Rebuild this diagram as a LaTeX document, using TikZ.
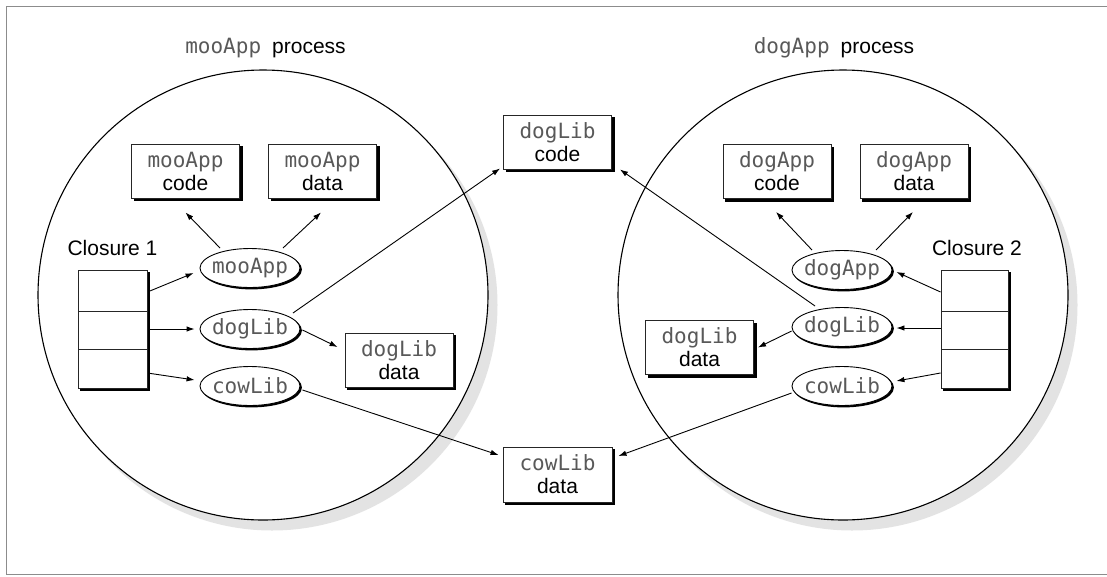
\documentclass[tikz,border=0pt]{standalone}
\usepackage{fontspec}
\setmainfont{Liberation Sans}
\newfontfamily\monof{DejaVu Sans Mono}
\usetikzlibrary{arrows.meta,calc,shapes.geometric}
\pgfdeclarelayer{csh}
\pgfdeclarelayer{back}
\pgfdeclarelayer{mid}
\pgfdeclarelayer{shade}
\pgfsetlayers{csh,back,mid,shade,main}
\newcommand{\mn}[1]{{\monof\color{black!65}#1}}
\begin{document}
\begin{tikzpicture}[x=1pt,y=-1pt,
  font=\fontsize{21pt}{23pt}\selectfont,
  box/.style={draw=black!85, line width=0.9pt, fill=white, minimum width=108pt,
    minimum height=54pt, inner sep=0pt, align=center},
  lib/.style={ellipse, draw, line width=0.9pt, fill=white, minimum width=100pt,
    minimum height=39pt, inner sep=0pt},
  cell/.style={draw=black!85, line width=0.9pt, fill=white, inner sep=0pt},
  proc/.style={circle, draw, line width=1.1pt, fill=white, minimum size=450pt, inner sep=0pt},
  conn/.style={line width=0.9pt, -{Latex[length=8pt,width=5.5pt]}},
  lbl/.style={inner sep=0pt},
  bshadow/.style={fill=black},
  cshadow/.style={fill=black!11}
]
\useasboundingbox (0,0) rectangle (1107,576);
\begin{pgfonlayer}{csh}
  \fill[white] (0,0) rectangle (1107,576);
  \draw[black!45, line width=1.3pt] (6.5,6.5) rectangle (1130,574.5);
\end{pgfonlayer}
\begin{pgfonlayer}{back}
  \node[proc] (P1) at (263,295) {};
  \node[proc] (P2) at (843,295) {};
\end{pgfonlayer}
\begin{pgfonlayer}{csh}
  \foreach \p in {P1,P2}
    \fill[cshadow] ($(\p)+(9,10)$) circle[radius=225.5];
\end{pgfonlayer}

% titles
\node[lbl] (t1) at (265.5,48) {\mn{mooApp}\hspace{11pt}process};
\node[lbl] (t2) at (834,48) {\mn{dogApp}\hspace{11pt}process};
\node[lbl] (k1) at (112.5,248) {Closure 1};
\node[lbl] (k2) at (977,248) {Closure 2};

% boxes
\node[box] (mc) at (185.5,171) {\mn{mooApp}\\code};
\node[box] (md) at (322.5,171) {\mn{mooApp}\\data};
\node[box] (dc) at (557.5,142) {\mn{dogLib}\\code};
\node[box] (dd) at (399,360) {\mn{dogLib}\\data};
\node[box, minimum width=109pt, minimum height=55pt] (cd) at (557.5,474.5) {\mn{cowLib}\\data};
\node[box] (ac) at (777,171.5) {\mn{dogApp}\\code};
\node[box] (ad) at (914,171.5) {\mn{dogApp}\\data};
\node[box] (rd) at (699.5,347.5) {\mn{dogLib}\\data};

% ellipses
\node[lib] (m1) at (250,268) {\makebox[40pt]{\mn{mooApp}}};
\node[lib] (d1) at (250,329) {\makebox[40pt]{\mn{dogLib}}};
\node[lib] (w1) at (250,386) {\makebox[40pt]{\mn{cowLib}}};
\node[lib] (m2) at (842,270) {\makebox[40pt]{\mn{dogApp}}};
\node[lib] (d2) at (842,327) {\makebox[40pt]{\mn{dogLib}}};
\node[lib] (w2) at (842,386) {\makebox[40pt]{\mn{cowLib}}};

% closure tables
\node[cell, minimum width=69pt, minimum height=41pt] (c1a) at (112.5,290.5) {};
\node[cell, minimum width=69pt, minimum height=38pt] (c1b) at (112.5,330) {};
\node[cell, minimum width=69pt, minimum height=39pt] (c1c) at (112.5,368.5) {};
\node[cell, minimum width=67pt, minimum height=41pt] (c2a) at (974.5,290.5) {};
\node[cell, minimum width=67pt, minimum height=38pt] (c2b) at (974.5,330) {};
\node[cell, minimum width=67pt, minimum height=39pt] (c2c) at (974.5,368.5) {};

% drop shadows
\begin{pgfonlayer}{shade}
  \foreach \n in {mc,md,dc,dd,cd,ac,ad,rd}
    \fill[bshadow] ($(\n.north west)+(2.7,2.7)$) rectangle ($(\n.south east)+(2.7,2.7)$);
  \fill[bshadow] ($(c1a.north west)+(2.7,2.7)$) rectangle ($(c1c.south east)+(2.7,2.7)$);
  \fill[bshadow] ($(c2a.north west)+(2.7,2.7)$) rectangle ($(c2c.south east)+(2.7,2.7)$);
  \foreach \n in {m1,d1,w1,m2,d2,w2}
    \fill[bshadow] ($(\n)+(1.5,1.5)$) ellipse[x radius=50.4, y radius=19.9];
\end{pgfonlayer}

\begin{pgfonlayer}{mid}
  % left process
  \draw[conn] ($(m1)+(-30,-20)$) -- ($(mc.south)+(0,14)$);
  \draw[conn] ($(m1)+(33,-20)$) -- ($(md.south)+(-1.5,14)$);
  \draw[conn] ($(c1a.east)+(0,1.5)$) -- ($(m1.west)+(-6,5)$);
  \draw[conn] ($(c1b.east)+(0,-1)$) -- ($(d1.west)+(-5,0)$);
  \draw[conn] ($(c1c.east)+(0,4.5)$) -- ($(w1.west)+(-5,-6)$);
  \draw[conn] ($(d1.east)+(2,1)$) -- ($(dd.west)+(-7,-13)$);
  \draw[conn] ($(d1)+(43,-16)$) -- ($(dc.south west)+(-3,-1)$);
  \draw[conn] ($(w1.east)+(2,4)$) -- ($(cd.west)+(-4,-19.5)$);
  % right process
  \draw[conn] ($(m2)+(-30,-20)$) -- ($(ac.south)+(-1,13)$);
  \draw[conn] ($(m2)+(34,-20)$) -- ($(ad.south)+(-1,13)$);
  \draw[conn] ($(c2a.west)+(0,1.5)$) -- ($(m2.east)+(4,2)$);
  \draw[conn] ($(c2b.west)+(0,-2)$) -- ($(d2.east)+(4,1)$);
  \draw[conn] ($(c2c.west)+(0,4.5)$) -- ($(w2.east)+(4,-5)$);
  \draw[conn] ($(d2.west)+(0,4)$) -- ($(rd.east)+(4,0)$);
  \draw[conn] ($(d2)+(-27,-21)$) -- ($(dc.south east)+(8,0)$);
  \draw[conn] ($(w2.west)+(0,7)$) -- ($(cd.east)+(6,-18.5)$);
\end{pgfonlayer}
\end{tikzpicture}
\end{document}
